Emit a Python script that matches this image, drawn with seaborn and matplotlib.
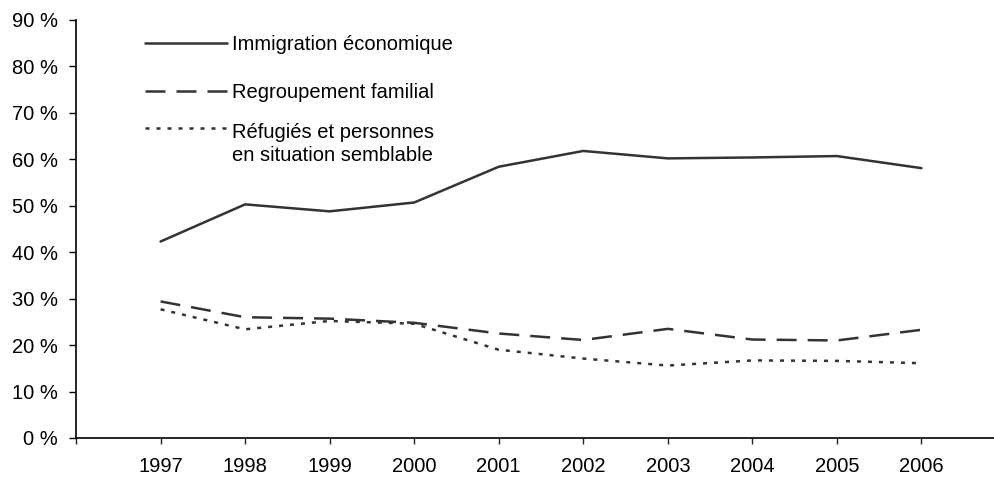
import pandas as pd
import matplotlib
matplotlib.use("Agg")
import matplotlib.pyplot as plt
import seaborn as sns

# data (share in %)
years = [1997, 1998, 1999, 2000, 2001, 2002, 2003, 2004, 2005, 2006]
immigration = [42.3, 50.3, 48.8, 50.7, 58.4, 61.8, 60.2, 60.4, 60.7, 58.1]
regroupement = [29.4, 26.0, 25.7, 24.8, 22.5, 21.1, 23.5, 21.2, 21.0, 23.3]
refugies = [27.7, 23.4, 25.2, 24.6, 19.0, 17.1, 15.6, 16.7, 16.6, 16.1]

series_names = ["Immigration économique", "Regroupement familial",
                "Réfugiés et personnes\nen situation semblable"]
y_ticks = [0, 10, 20, 30, 40, 50, 60, 70, 80, 90]

df = pd.DataFrame({
    "year": years * 3,
    "share": immigration + regroupement + refugies,
    "serie": [series_names[0]] * 10 + [series_names[1]] * 10 + [series_names[2]] * 10,
})

sns.set_style("ticks")
plt.rcParams["font.family"] = ["Liberation Sans", "DejaVu Sans"]
plt.rcParams["font.size"] = 14.5

LW = 1.8
COLOR = "#333333"
dash_styles = {
    series_names[0]: "",
    series_names[1]: (8, 4.4),
    series_names[2]: (1.6, 2.8),
}

fig = plt.figure(figsize=(9.95, 4.79), dpi=100)
ax = fig.add_axes([0.0764, 0.0856, 0.9236, 0.8727])

sns.lineplot(data=df, x="year", y="share", style="serie", dashes=dash_styles,
             color=COLOR, linewidth=LW, legend=False, ax=ax)

ax.set_xlim(1996, 2006.87)
ax.set_ylim(0, 90)
ax.set_xticks([1996] + years)
ax.set_xticklabels([""] + [str(y) for y in years])
ax.set_yticks(y_ticks)
ax.set_yticklabels([f"{v} %" for v in y_ticks])
ax.set_xlabel("")
ax.set_ylabel("")

for side in ["top", "right"]:
    ax.spines[side].set_visible(False)
for side in ["left", "bottom"]:
    ax.spines[side].set_linewidth(1.2)
    ax.spines[side].set_color("black")
ax.tick_params(axis="y", direction="out", length=5, width=1.0, pad=8,
               labelsize=14.5, colors="black")
ax.tick_params(axis="x", direction="out", length=4, width=1.0, pad=10,
               labelsize=14.5, colors="#222222", labelcolor="black")

# legend drawn inside the plot, handle aligned with first text line
handle_y = [0.9457, 0.8309, 0.7409]
text_y = [0.941, 0.826, 0.703]
for name, hy, ty in zip(series_names, handle_y, text_y):
    ax.plot([0.0751, 0.1643], [hy, hy], transform=ax.transAxes, color=COLOR,
            linewidth=LW, linestyle="-" if dash_styles[name] == "" else (0, dash_styles[name]),
            clip_on=False)
    ax.text(0.1697, ty, name, transform=ax.transAxes, ha="left", va="center",
            fontsize=14.5, linespacing=1.22, color="black")

fig.savefig("out.png", dpi=100)
